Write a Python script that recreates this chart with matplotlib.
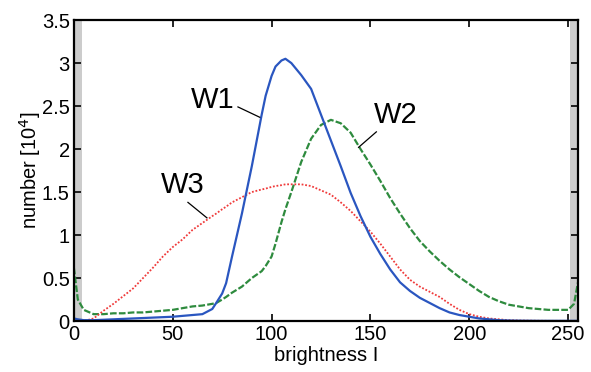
import numpy as np
import matplotlib.pyplot as plt

plt.rcParams['font.family'] = ['Liberation Sans', 'DejaVu Sans']

# brightness positions
brightness = [0, 2, 5, 10, 15, 20, 25, 30, 35, 40, 45, 50, 55, 60, 65, 70, 72, 75, 77,
              80, 85, 90, 95, 97, 100, 102, 105, 107, 110, 115, 120, 125, 130, 135, 140,
              145, 150, 155, 160, 165, 170, 175, 180, 185, 190, 195, 200, 205, 210, 215,
              220, 225, 230, 235, 240, 245, 250, 253, 255]

# W1 (blue, solid)
w1 = [0.03, 0.02, 0.01, 0.01, 0.015, 0.02, 0.025, 0.03, 0.035, 0.04, 0.045, 0.05, 0.06,
      0.07, 0.08, 0.14, 0.21, 0.32, 0.44, 0.75, 1.25, 1.8, 2.4, 2.62, 2.85, 2.96, 3.03,
      3.05, 3.0, 2.86, 2.7, 2.4, 2.1, 1.8, 1.49, 1.22, 0.98, 0.78, 0.6, 0.45, 0.35,
      0.27, 0.21, 0.15, 0.1, 0.07, 0.05, 0.03, 0.02, 0.01, 0.006, 0.004, 0.003, 0.002,
      0.002, 0.002, 0.002, 0.002, 0.002]

# W2 (green, dashed)
w2 = [0.62, 0.25, 0.13, 0.08, 0.08, 0.09, 0.09, 0.1, 0.1, 0.11, 0.12, 0.13, 0.15, 0.17,
      0.18, 0.2, 0.21, 0.25, 0.28, 0.33, 0.4, 0.5, 0.58, 0.64, 0.75, 0.9, 1.15, 1.3, 1.5,
      1.85, 2.12, 2.28, 2.34, 2.3, 2.19, 2.0, 1.82, 1.63, 1.43, 1.25, 1.08, 0.93, 0.81,
      0.7, 0.6, 0.51, 0.43, 0.35, 0.28, 0.23, 0.19, 0.17, 0.15, 0.14, 0.13, 0.13, 0.13,
      0.2, 0.45]

# W3 (red, dotted)
w3 = [0.0, 0.0, 0.0, 0.03, 0.12, 0.2, 0.29, 0.38, 0.5, 0.62, 0.75, 0.86, 0.95, 1.06,
      1.14, 1.22, 1.25, 1.3, 1.33, 1.38, 1.44, 1.5, 1.53, 1.54, 1.56, 1.57, 1.58, 1.59,
      1.59, 1.59, 1.57, 1.52, 1.47, 1.38, 1.28, 1.16, 1.04, 0.9, 0.75, 0.6, 0.48, 0.4,
      0.34, 0.28, 0.2, 0.13, 0.08, 0.05, 0.03, 0.02, 0.01, 0.006, 0.004, 0.003, 0.002,
      0.002, 0.002, 0.002, 0.002]

x_ticks = [0, 50, 100, 150, 200, 250]
y_ticks = [0, 0.5, 1, 1.5, 2, 2.5, 3, 3.5]
y_tick_labels = ["0", "0.5", "1", "1.5", "2", "2.5", "3", "3.5"]

fig = plt.figure(figsize=(5.91, 3.72), dpi=100)
ax = fig.add_axes([0.125, 0.137, 0.853, 0.809])

# gray bands at both ends of the brightness range
ax.axvspan(0, 4, color="#cccccc", lw=0, zorder=0)
ax.axvspan(251, 255, color="#cccccc", lw=0, zorder=0)

ax.plot(brightness, w2, color="#2e8b3e", lw=1.6, linestyle=(0, (3, 1)))
ax.plot(brightness, w3, color="#f03a3a", lw=1.3, linestyle=(0, (1, 1)))
ax.plot(brightness, w1, color="#2a56c0", lw=1.6)

# labels with leader lines
ax.text(70, 2.57, "W1", fontsize=21, ha="center", va="center")
ax.plot([83, 94], [2.49, 2.37], color="black", lw=0.9)
ax.text(163, 2.4, "W2", fontsize=21, ha="center", va="center")
ax.plot([153, 144], [2.2, 2.02], color="black", lw=0.9)
ax.text(55, 1.58, "W3", fontsize=21, ha="center", va="center")
ax.plot([57.7, 67.3], [1.38, 1.2], color="black", lw=0.9)

ax.set_xlim(0, 255)
ax.set_ylim(0, 3.5)
ax.set_xticks(x_ticks)
ax.set_yticks(y_ticks)
ax.set_yticklabels(y_tick_labels)
ax.tick_params(direction="in", top=True, right=True, length=5, width=1.2,
               labelsize=14.5, pad=3)
for s in ax.spines.values():
    s.set_linewidth(1.6)

ax.set_xlabel("brightness I", fontsize=14.5, labelpad=1)
ax.set_ylabel("number [10$^4$]", fontsize=14.5, labelpad=-1)

fig.savefig("out.png", dpi=100)
